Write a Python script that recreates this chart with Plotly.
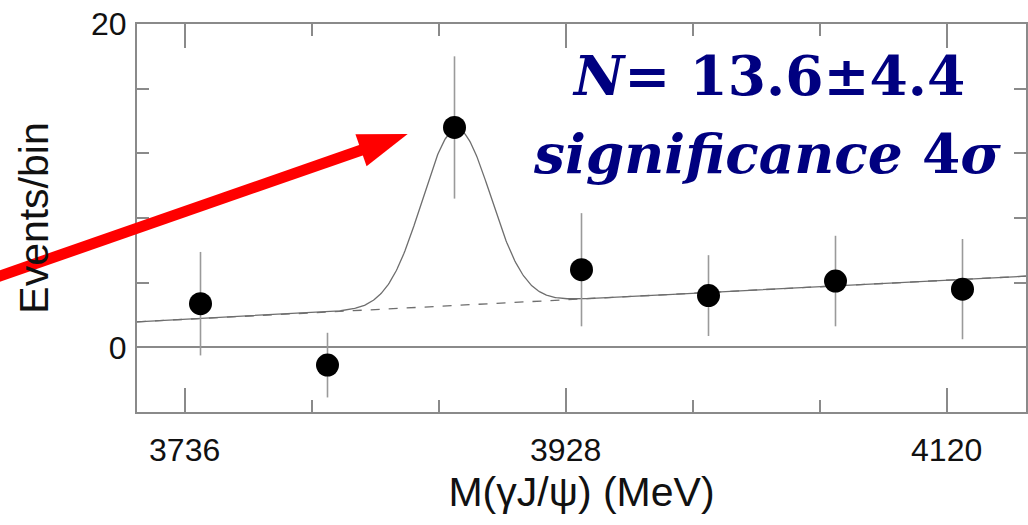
import numpy as np
import plotly.graph_objects as go

# ---- data ----
mass_bins = [3744, 3808, 3872, 3936, 4000, 4064, 4128]          # MeV, bin centres
events = [2.7, -1.1, 13.6, 4.8, 3.2, 4.1, 3.6]                     # events / bin
errors = [3.2, 2.0, 4.4, 3.5, 2.5, 2.8, 3.1]

# fitted model: gaussian peak on a linear background
bg_at_3712 = 1.58
bg_slope = 0.0063          # events per MeV
peak_mean = 3873.0
peak_sigma = 17.3
peak_amp = 10.9

x_range = [3712, 4160]
y_range = [-4, 20]

label_line1 = "<b><i>N</i>= 13.6±4.4</b>"
label_line2 = "<b><i>significance</i> 4<i>σ</i></b>"

# ---- figure geometry ----
W, H = 1028, 525
ML, MR, MT, MB = 137, 0, 24, 113
PW, PH = W - ML - MR, H - MT - MB

model_x = np.linspace(x_range[0], x_range[1], 900)
bg_y = bg_at_3712 + bg_slope * (model_x - x_range[0])
tot_y = bg_y + peak_amp * np.exp(-0.5 * ((model_x - peak_mean) / peak_sigma) ** 2)

fig = go.Figure()
fig.add_trace(go.Scatter(x=model_x, y=bg_y, mode="lines",
                         line=dict(color="#6e6e6e", width=1.3, dash="dash"),
                         hoverinfo="skip", showlegend=False))
fig.add_trace(go.Scatter(x=model_x, y=tot_y, mode="lines",
                         line=dict(color="#6e6e6e", width=1.3),
                         hoverinfo="skip", showlegend=False))
fig.add_trace(go.Scatter(x=mass_bins, y=events, mode="markers",
                         marker=dict(color="black", size=23),
                         error_y=dict(type="data", array=errors, visible=True,
                                      color="#9a9a9a", thickness=1.6, width=0),
                         showlegend=False))

axis_common = dict(showline=True, linecolor="#8a8a8a", linewidth=2, mirror="ticks",
                   ticks="inside", tickcolor="#8a8a8a", tickwidth=1.5,
                   showgrid=False,
                   tickfont=dict(family="Liberation Sans, Arial, sans-serif", size=32, color="#111"),
                   title_font=dict(family="Liberation Sans, Arial, sans-serif", size=41, color="#111"))

fig.update_xaxes(range=x_range, tickmode="linear", tick0=3736, dtick=192, ticklen=24,
                 minor=dict(tick0=3736, dtick=64, ticklen=12, ticks="inside",
                            tickcolor="#8a8a8a", tickwidth=1.5),
                 ticklabelstandoff=9, zeroline=False,
                 title=dict(text="M(γJ/ψ) (MeV)", standoff=10), **axis_common)
fig.update_yaxes(range=y_range, tickmode="linear", tick0=0, dtick=20, ticklen=24,
                 minor=dict(tick0=0, dtick=4, ticklen=12, ticks="inside",
                            tickcolor="#8a8a8a", tickwidth=1.5),
                 ticklabelstandoff=2, zeroline=True, zerolinecolor="#8a8a8a", zerolinewidth=1.5,
                 title=dict(text="Events/bin", standoff=30), **axis_common)


def to_paper(xd, yd):
    px = (xd - x_range[0]) / (x_range[1] - x_range[0])
    py = (yd - y_range[0]) / (y_range[1] - y_range[0])
    return px, py

# red arrow pointing at the peak (tip in data units, tail offset in pixels)
tip_x, tip_y = to_paper(3848.4, 13.2)
tip_px = ML + tip_x * PW
tip_py = MT + (1 - tip_y) * PH
tail_dx, tail_dy = -420, 146        # pixel offset of tail from tip
L = np.hypot(tail_dx, tail_dy)
ux, uy = -tail_dx / L, -tail_dy / L  # unit vector towards tip
head_len, head_half = 49.5, 17.0
bx, by = tip_px - head_len * ux, tip_py - head_len * uy
c1 = (bx + head_half * (-uy), by + head_half * ux)
c2 = (bx - head_half * (-uy), by - head_half * ux)
tail = (tip_px + tail_dx, tip_py + tail_dy)
line_end = (bx + 6 * ux, by + 6 * uy)

def pxp(p):
    return (p[0] - ML) / PW, 1 - (p[1] - MT) / PH

t0 = pxp(tail); t1 = pxp(line_end)
fig.add_shape(type="line", xref="paper", yref="paper", x0=t0[0], y0=t0[1], x1=t1[0], y1=t1[1],
              line=dict(color="#ff0000", width=11), layer="above")
pts = [pxp((tip_px, tip_py)), pxp(c1), pxp(c2)]
path = "M {} {} L {} {} L {} {} Z".format(pts[0][0], pts[0][1], pts[1][0], pts[1][1], pts[2][0], pts[2][1])
fig.add_shape(type="path", xref="paper", yref="paper", path=path,
              fillcolor="#ff0000", line=dict(color="#ff0000", width=0), layer="above")

txt_font = dict(family="DejaVu Serif, serif", size=55, color="#000080")
fig.add_annotation(xref="paper", yref="paper", x=(770 - ML) / PW, y=1 - (110 - MT) / PH,
                   text=label_line1, showarrow=False, xanchor="center", yanchor="bottom",
                   font=txt_font)
fig.add_annotation(xref="paper", yref="paper", x=(768 - ML) / PW, y=1 - (188 - MT) / PH,
                   text=label_line2, showarrow=False, xanchor="center", yanchor="bottom",
                   font=txt_font)

fig.update_layout(width=W, height=H, margin=dict(l=ML, r=MR, t=MT, b=MB, pad=0),
                  plot_bgcolor="white", paper_bgcolor="white", showlegend=False)

# remove the default page margin so the figure sits at the window's top-left corner
fig.write_html("out.html", config={"displayModeBar": False},
               post_script="document.body.style.margin='0px';")
